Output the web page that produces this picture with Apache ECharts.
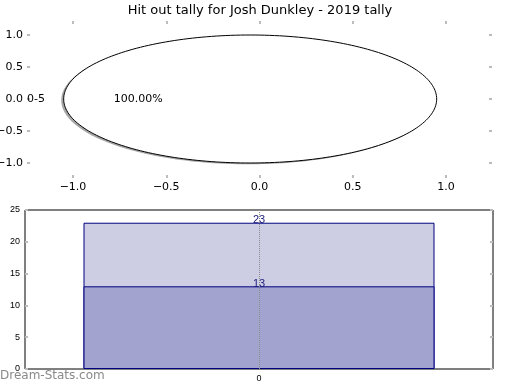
<!DOCTYPE html>
<html><head><meta charset="utf-8">
<script src="https://cdn.jsdelivr.net/npm/echarts@6/dist/echarts.min.js"></script>
<style>html,body{margin:0;padding:0;background:#fff}#c{width:520px;height:390px}</style>
</head><body><div id="c"></div>
<script>
const titleText = 'Hit out tally for Josh Dunkley - 2019 tally';
const pieLabels = ['0-5'];
const pieValues = [23];
const pieTickMin = -1.0, pieTickMax = 1.0, pieTickStep = 0.5;
const barCategories = ['0'];
const barTotal = [23];
const barSub = [13];
const watermark = 'Dream-Stats.com';

const total = pieValues.reduce((a, b) => a + b, 0);
const EXPLODE = 0.05, RADIUS = 1, PCTDIST = 0.6, LABELDIST = 1.1;
const SHADOW_DX = -0.013, SHADOW_DY = -0.02;

function renderWedge(params, api) {
  const i = params.dataIndex;
  let before = 0;
  for (let k = 0; k < i; k++) before += pieValues[k];
  const frac = pieValues[i] / total;
  const t0 = 2 * Math.PI * before / total, t1 = t0 + 2 * Math.PI * frac;
  const mid = (t0 + t1) / 2;
  const cx = EXPLODE * Math.cos(mid), cy = EXPLODE * Math.sin(mid);
  const pts = (ox, oy) => {
    const p = []; const n = 240;
    if (frac < 1) p.push(api.coord([cx + ox, cy + oy]));
    for (let s = 0; s <= n; s++) {
      const t = t0 + (t1 - t0) * s / n;
      p.push(api.coord([cx + ox + RADIUS * Math.cos(t), cy + oy + RADIUS * Math.sin(t)]));
    }
    return p;
  };
  const lp = api.coord([cx + LABELDIST * Math.cos(mid), cy + LABELDIST * Math.sin(mid)]);
  const pp = api.coord([cx + PCTDIST * Math.cos(mid), cy + PCTDIST * Math.sin(mid)]);
  return { type: 'group', children: [
    { type: 'polygon', shape: { points: pts(SHADOW_DX, SHADOW_DY) }, style: { fill: 'rgba(77,77,77,0.5)' }, z2: 1 },
    { type: 'polygon', shape: { points: pts(0, 0) }, style: { fill: '#fff', stroke: '#000', lineWidth: 1 }, z2: 2 },
    { type: 'text', x: lp[0], y: lp[1], style: { text: pieLabels[i], align: Math.cos(mid) < 0 ? 'right' : 'left', verticalAlign: 'middle', font: '11px "DejaVu Sans"', fill: '#000' }, z2: 3 },
    { type: 'text', x: pp[0], y: pp[1], style: { text: (frac * 100).toFixed(2) + '%', align: 'center', verticalAlign: 'middle', font: '11px "DejaVu Sans"', fill: '#000' }, z2: 3 }
  ]};
}

const tickStyle = { color: '#bcbcbc', width: 2 };
const fmt = v => (v < 0 ? '\u2212' : '') + Math.abs(v).toFixed(1);
function pieAxis(pos, showLabel, offset) {
  return {
    type: 'value', gridIndex: 0, position: pos, offset: offset,
    min: pieTickMin, max: pieTickMax, interval: pieTickStep,
    axisLine: { show: false, onZero: false }, splitLine: { show: false },
    axisTick: { show: true, inside: true, length: 3, lineStyle: tickStyle },
    axisLabel: { show: showLabel, formatter: fmt, margin: 4,
      fontFamily: 'DejaVu Sans', fontSize: 11, color: '#000' }
  };
}

const chart = echarts.init(document.getElementById('c'), null, { renderer: 'canvas' });
chart.setOption({
  animation: false,
  backgroundColor: '#fff',
  title: { text: titleText, left: 'center', top: -1,
    textStyle: { fontFamily: 'DejaVu Sans', fontSize: 13, fontWeight: 'normal', color: '#000' } },
  grid: [
    { left: 73, top: 35, width: 373, height: 128, containLabel: false, outerBoundsMode: 'none' },
    { left: 25, top: 210, width: 468, height: 159, containLabel: false, outerBoundsMode: 'none',
      show: true, borderColor: '#000', borderWidth: 1, backgroundColor: 'transparent' }
  ],
  xAxis: [
    pieAxis('bottom', true, 15),
    pieAxis('top', false, 14),
    { type: 'category', gridIndex: 1, data: barCategories, position: 'bottom',
      axisLine: { show: false, onZero: false }, axisTick: { show: false }, splitLine: { show: false },
      axisLabel: { fontFamily: 'Liberation Sans', fontSize: 9, color: '#000', margin: 5 } }
  ],
  yAxis: [
    pieAxis('left', true, 46),
    pieAxis('right', false, 46),
    { type: 'value', gridIndex: 1, min: 0, max: 25, interval: 5, position: 'left',
      axisLine: { show: false, onZero: false }, splitLine: { show: false },
      axisTick: { show: true, inside: true, length: 3, lineStyle: tickStyle },
      axisLabel: { fontFamily: 'Liberation Sans', fontSize: 9, color: '#000', margin: 5 } },
    { type: 'value', gridIndex: 1, min: 0, max: 25, interval: 5, position: 'right',
      axisLine: { show: false, onZero: false }, splitLine: { show: false },
      axisTick: { show: true, inside: true, length: 3, lineStyle: tickStyle },
      axisLabel: { show: false } }
  ],
  graphic: [
    { type: 'text', left: 0, top: 370, style: { text: watermark, font: '12px "DejaVu Sans"', fill: '#8a8a8a' } }
  ],
  series: [
    { type: 'custom', xAxisIndex: 0, yAxisIndex: 0, renderItem: renderWedge, clip: false,
      data: pieValues.map((v, i) => [i, v]) },
    { type: 'bar', xAxisIndex: 2, yAxisIndex: 2, data: barTotal, barWidth: '75%', barGap: '-100%',
      itemStyle: { color: '#cdcde4', borderColor: '#000080', borderWidth: 1 },
      label: { show: true, position: 'top', distance: -3, fontFamily: 'Liberation Sans', fontSize: 11, color: '#1c1c7c' } },
    { type: 'bar', xAxisIndex: 2, yAxisIndex: 2, data: barSub, barWidth: '75%', barGap: '-100%',
      itemStyle: { color: '#a3a3cf', borderColor: '#000080', borderWidth: 1 },
      label: { show: true, position: 'top', distance: -3, fontFamily: 'Liberation Sans', fontSize: 11, color: '#1c1c7c' },
      markLine: { silent: true, symbol: ['none', 'none'], label: { show: false },
        lineStyle: { type: 'dotted', color: '#8c8c8c', width: 1 },
        data: [{ xAxis: barCategories[0] }] } }
  ]
});
</script></body></html>
